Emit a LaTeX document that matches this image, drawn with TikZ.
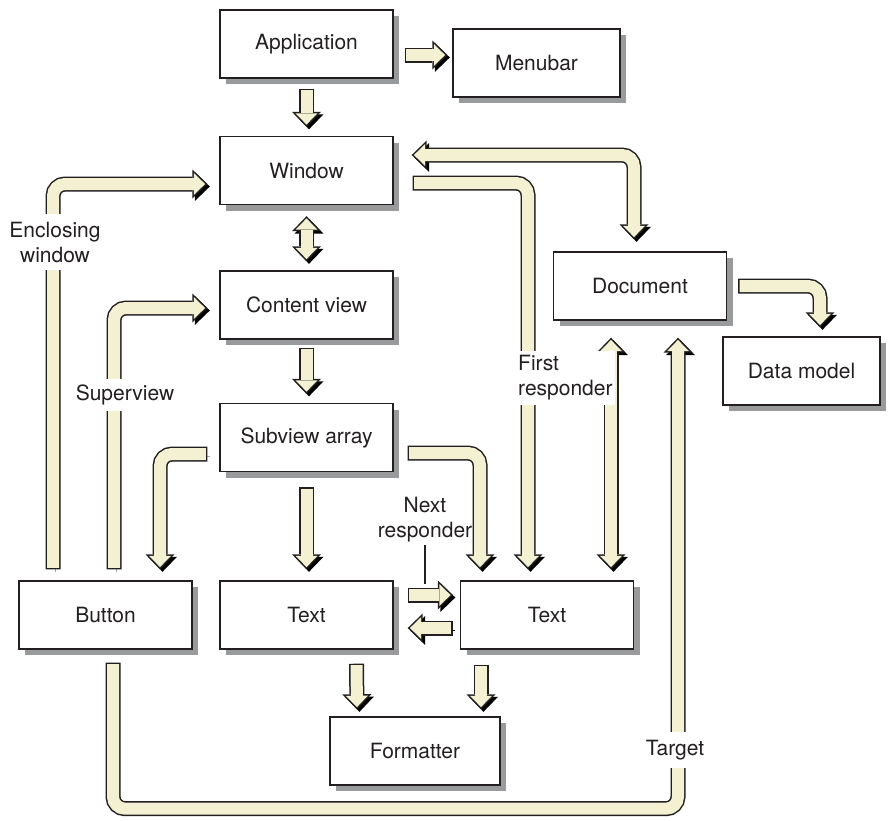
\documentclass[tikz,border=0pt]{standalone}
\usepackage{fontspec}
\setmainfont{TeX Gyre Heros}
\usetikzlibrary{arrows.meta, shadows}

\definecolor{pipefill}{HTML}{F3F1D2}
\definecolor{boxshade}{HTML}{999A9C}
\definecolor{ink}{HTML}{231F20}

\tikzset{
  % one object of the chain
  box/.style      = {draw=ink, line width=1.4pt, fill=white, text=ink,
                     minimum width=173pt, minimum height=68pt, inner sep=0pt,
                     font=\fontsize{21}{25}\selectfont,
                     drop shadow={fill=boxshade, opacity=1,
                                  shadow xshift=6pt, shadow yshift=-6pt}},
  % outline and inside of a fat arrow
  pipeline/.style = {draw=ink, line width=15pt, rounded corners=12pt},
  pipein/.style   = {draw=pipefill, line width=12pt},
  % a one-way fat arrow
  pipe/.style     = {pipeline, -{Triangle[length=15pt,width=29pt,line width=0pt]},
                     preaction={draw=black,
                                -{Triangle[length=15pt,width=29pt,line width=0pt]},
                                transform canvas={shift={(2.5pt,-2.5pt)}}},
                     postaction={pipein, shorten <=1.4pt, shorten >=2.2pt,
                                 -{Triangle[length=11.3pt,width=21.9pt,line width=0pt]}}},
  % a two-way fat arrow
  twin/.style     = {pipeline,
                     {Triangle[length=15pt,width=29pt,line width=0pt]}-{Triangle[length=15pt,width=29pt,line width=0pt]},
                     preaction={draw=black,
                                {Triangle[length=15pt,width=29pt,line width=0pt]}-{Triangle[length=15pt,width=29pt,line width=0pt]},
                                transform canvas={shift={(2.5pt,-2.5pt)}}},
                     postaction={pipein, shorten <=2.2pt, shorten >=2.2pt,
                                 {Triangle[length=11.3pt,width=21.9pt,line width=0pt]}-{Triangle[length=11.3pt,width=21.9pt,line width=0pt]}}},
  % a label, laid over a pipe where needed
  tag/.style      = {fill=white, text=ink, align=center, inner sep=2pt,
                     font=\fontsize{21}{25}\selectfont},
}

\begin{document}
\begin{tikzpicture}[x=1pt, y=1pt]
  \useasboundingbox (0,0) rectangle (888,-820);

  % --- the objects ---
  \node[box]                      (app)  at (306.5,-44)  {Application};
  \node[box, minimum width=167pt] (menu) at (536.5,-63)  {Menubar};
  \node[box]                      (win)  at (306.5,-170.5) {Window};
  \node[box]                      (cont) at (306.5,-305) {Content view};
  \node[box]                      (sub)  at (306.5,-437.5) {Subview array};
  \node[box]                      (btn)  at (105.5,-615) {Button};
  \node[box]                      (txa)  at (306.5,-615) {Text};
  \node[box]                      (txb)  at (547,-615)   {Text};
  \node[box, minimum width=170pt] (fmt)  at (415,-751)   {Formatter};
  \node[box]                      (doc)  at (640,-286)   {Document};
  \node[box, minimum width=157pt] (dm)   at (801.5,-371) {Data model};

  % --- straight arrows ---
  \draw[pipe] ([yshift=-10pt]app.south) -- ([yshift=9pt]win.north);
  \draw[pipe] ([shift={(11,-11)}]app.east) -- ([shift={(-5,8)}]menu.west);
  \draw[twin] ([yshift=-11pt]win.south) -- ([yshift=9pt]cont.north);
  \draw[pipe] ([yshift=-8pt]cont.south) -- ([yshift=9pt]sub.north);
  \draw[pipe] ([yshift=-15pt]sub.south) -- ([yshift=11pt]txa.north);
  \draw[pipe] ([shift={(14,20)}]txa.east) -- ([shift={(-7,20)}]txb.west);
  \draw[pipe] ([shift={(-7,-13)}]txb.west) -- ([shift={(14,-13)}]txa.east);
  \draw[pipe] ([shift={(50,-14)}]txa.south) -- ([shift={(-58,7)}]fmt.north);
  \draw[pipe] ([shift={(-66,-15)}]txb.south) -- ([shift={(66,7)}]fmt.north);
  \draw[twin] ([shift={(-29,-17)}]doc.south) -- ([shift={(64,11)}]txb.north);

  % --- bent arrows ---
  \draw[pipe] ([shift={(-12,-16.5)}]sub.west) -| ([shift={(54.5,11)}]btn.north);
  \draw[pipe] ([shift={(14,-15.5)}]sub.east) -| ([shift={(-67,11)}]txb.north);
  \draw[pipe] ([shift={(19,-12.5)}]win.east) -| ([shift={(-19,11)}]txb.north);
  \draw[twin] ([shift={(18,15.5)}]win.east) -| ([shift={(-6,12)}]doc.north);
  \draw[pipe] ([shift={(11,0)}]doc.east) -| ([shift={(18.5,9)}]dm.north);
  \draw[pipe] ([shift={(-52.5,11)}]btn.north) |- ([shift={(-12,-13.5)}]win.west);
  \draw[pipe] ([shift={(8.5,11)}]btn.north) |- ([shift={(-12,-3)}]cont.west);
  \draw[pipe] ([shift={(7.5,-13)}]btn.south) |- ([shift={(38,-488)}]doc.south)
              -- ([shift={(38,-17)}]doc.south);

  % --- labels ---
  \node[tag, inner ysep=8pt]       (encl) at (55,-242)  {Enclosing\\window};
  \node[tag, inner ysep=6pt]       (supv) at (125,-395) {Superview};
  \node[tag, align=left, anchor=west, inner ysep=5pt] (frst) at (516,-378) {First\\responder};
  \node[tag, inner ysep=8pt]       (targ) at (675,-750) {Target};
  \node[tag, fill=none]            (nxt)  at (425,-520) {Next\\responder};
  \coordinate (nxtend) at (425,-584);
  \draw[ink, line width=1.2pt] (nxt.south) -- (nxtend);
\end{tikzpicture}
\end{document}
